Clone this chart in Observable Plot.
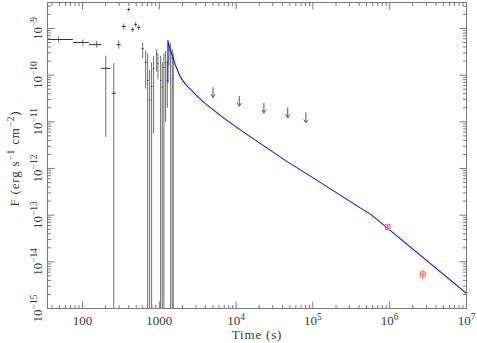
<!DOCTYPE html>
<html><head><meta charset="utf-8">
<script src="https://cdn.jsdelivr.net/npm/d3@7"></script>
<script src="https://cdn.jsdelivr.net/npm/@observablehq/plot@0.6"></script>
<style>html,body{margin:0;padding:0;background:#fff}svg{display:block}</style>
</head><body><div id="chart"></div>
<script>
// ---- Black crosses (early light curve) ----
const crossTime   = [49,101,153,201,255,296,344,399,450,492,538,607,664,705,748,794,843,922,960,1040,1094,1148,1208,1270,1334,1403,1475,1520];
const crossTimeLo = [35.5,75,121,173,240,278,323,383,432,472,516,589,645,690,733,779,826,903,945,1020,1075,1128,1188,1250,1312,1380,1450,1495];
const crossTimeHi = [75,121,178,233,271,315,366,416,469,512,561,626,684,720,763,810,860,941,975,1060,1113,1168,1228,1290,1356,1426,1500,1545];
const crossFlux   = [5.8e-10,5.0e-10,4.5e-10,1.4e-10,4.1e-11,4.5e-10,1.10e-9,2.55e-9,9.5e-10,1.22e-9,1.05e-9,3.7e-10,1.87e-10,7.7e-11,2.9e-11,5.7e-11,1.4e-10,2.9e-10,1.78e-10,7.7e-11,5.5e-11,1.46e-10,1.87e-10,7.7e-11,3.4e-10,3.1e-10,2.3e-10,8.5e-11];
const crossFluxLo = [5.0e-10,4.3e-10,3.9e-10,4.7e-12,1e-16,3.7e-10,9.5e-10,2.3e-9,8.4e-10,1.08e-9,9.3e-10,2.3e-10,5.2e-11,1e-16,1e-16,1e-16,5.6e-12,1.2e-10,8e-11,1e-16,1e-16,1e-16,9.8e-12,2.0e-11,1.6e-10,1e-16,1e-16,1e-16];
const crossFluxHi = [6.7e-10,5.8e-10,5.4e-10,2.6e-10,1.8e-10,5.5e-10,1.27e-9,2.8e-9,1.07e-9,1.37e-9,1.18e-9,5.0e-10,3.4e-10,2.9e-10,1.3e-10,1.9e-10,2.6e-10,3.6e-10,2.9e-10,2.6e-10,1.9e-10,2.9e-10,3.3e-10,2.0e-10,5.0e-10,4.8e-10,3.6e-10,2.9e-10];

// ---- Upper limits (down arrows) ----
const limitTime = [5000,11000,23000,47000,81000];
const limitFlux = [5.4e-11,3.5e-11,2.5e-11,2.0e-11,1.55e-11];

// ---- Model curve (blue) ----
const modelTime = [1293,1293,1333,1475,1628,1891,2196,2707,3439,4240,7261,13210,43650,124400,588800,1e7];
const modelFlux = [7.08e-11,5.54e-10,4.33e-10,2.64e-10,1.61e-10,8.93e-11,6.33e-11,4.48e-11,3.02e-11,2.25e-11,1.13e-11,5.65e-12,1.49e-12,5.04e-13,9.9e-14,2.11e-15];

// ---- Late red points ----
const redTime   = [9.4e5,2.7e6];
const redTimeLo = [8.8e5,2.55e6];
const redTimeHi = [1.0e6,2.85e6];
const redFlux   = [5.6e-14,5.4e-15];
const redFluxLo = [5.0e-14,4.2e-15];
const redFluxHi = [6.3e-14,6.8e-15];

// ---- Axes ----
const xTickValues = [100,1000,1e4,1e5,1e6,1e7];
const xTickLabels = ["100","1000","10^4","10^5","10^6","10^7"];
const yTickValues = [1e-15,1e-14,1e-13,1e-12,1e-11,1e-10,1e-9];
const yTickLabels = ["10^-15","10^-14","10^-13","10^-12","10^-11","10^-10","10^-9"];
const xTitle = "Time (s)";
const yTitle = "F (erg s^-1 cm^-2)";

const cross = crossTime.map((t,i)=>({t, tlo:crossTimeLo[i], thi:crossTimeHi[i], f:crossFlux[i], flo:crossFluxLo[i], fhi:crossFluxHi[i]}));
const limits = limitTime.map((t,i)=>({t, f:limitFlux[i]}));
const model = modelTime.map((t,i)=>({t, f:modelFlux[i]}));
const red = redTime.map((t,i)=>({t, tlo:redTimeLo[i], thi:redTimeHi[i], f:redFlux[i], flo:redFluxLo[i], fhi:redFluxHi[i]}));

const W = 477, H = 343, mL = 47, mR = 11, mT = 2, mB = 35;
const xDomain = [35, 1e7], yDomain = [1e-15, 3.6e-9];
const axisCol = "#7a7a7a", textCol = "#3a3a3a", FS = 13;
function minorTicks(lo, hi) {
  const out = [];
  for (let e = Math.floor(Math.log10(lo)); e <= Math.ceil(Math.log10(hi)); e++)
    for (let m = 2; m <= 9; m++) { const v = m * Math.pow(10, e); if (v > lo && v < hi) out.push(v); }
  return out;
}
const xMinor = minorTicks(...xDomain), yMinor = minorTicks(...yDomain);

// tick lengths (pixels) converted into log-scale factors from the frame edges
const fw = W - mL - mR, fh = H - mT - mB;
const xStep = px => Math.pow(xDomain[1] / xDomain[0], px / fw);
const yStep = px => Math.pow(yDomain[1] / yDomain[0], px / fh);
const xTicks = (vals, px) => [
  Plot.link(vals, {x1:d=>d, x2:d=>d, y1:yDomain[0], y2:yDomain[0]*yStep(px), stroke:axisCol}),
  Plot.link(vals, {x1:d=>d, x2:d=>d, y1:yDomain[1], y2:yDomain[1]/yStep(px), stroke:axisCol})
];
const yTicks = (vals, px) => [
  Plot.link(vals, {y1:d=>d, y2:d=>d, x1:xDomain[0], x2:xDomain[0]*xStep(px), stroke:axisCol}),
  Plot.link(vals, {y1:d=>d, y2:d=>d, x1:xDomain[1], x2:xDomain[1]/xStep(px), stroke:axisCol})
];

const svg = Plot.plot({
  width: W, height: H,
  marginLeft: mL, marginRight: mR, marginTop: mT, marginBottom: mB,
  x: {type: "log", domain: xDomain, axis: null},
  y: {type: "log", domain: yDomain, axis: null},
  style: {fontFamily: "Liberation Serif", fontSize: FS + "px", background: "#fff", color: textCol},
  marks: [
    Plot.link(cross, {x1:"t", x2:"t", y1:"flo", y2:"fhi", stroke:"#6e6e6e", strokeWidth:1, clip:true}),
    Plot.link(cross, {x1:"tlo", x2:"thi", y1:"f", y2:"f", stroke:"#333", strokeWidth:1, clip:true}),
    Plot.line(model, {x:"t", y:"f", stroke:"#1414ff", strokeWidth:1.1, clip:true}),
    Plot.arrow(limits, {x1:"t", y1:"f", x2:"t", y2:d=>d.f*0.62, stroke:"#555", strokeWidth:1, headLength:5, headAngle:70}),
    Plot.link(red, {x1:"t", x2:"t", y1:"flo", y2:"fhi", stroke:"#ff6a6a"}),
    Plot.link(red, {x1:"tlo", x2:"thi", y1:"f", y2:"f", stroke:"#ff6a6a"}),
    Plot.dot(red, {x:"t", y:"f", symbol:"square", r:2.8, stroke:"#ff6a6a", fill:"none", strokeWidth:1}),
    Plot.frame({stroke: axisCol}),
    ...xTicks(xTickValues, 7), ...xTicks(xMinor, 3.5),
    ...yTicks(yTickValues, 7), ...yTicks(yMinor, 3.5),
    Plot.text(xTickValues, {x:d=>d, text:(d,i)=>xTickLabels[i], frameAnchor:"bottom", lineAnchor:"top", dy:7.5, fill:textCol, fontSize:FS}),
    Plot.text(yTickValues, {y:d=>d, text:(d,i)=>yTickLabels[i], frameAnchor:"left", rotate:-90, textAnchor:"middle", lineAnchor:"bottom", dx:-6, fill:textCol, fontSize:FS}),
    Plot.text([xTitle], {text:d=>d, frameAnchor:"bottom", lineAnchor:"bottom", dy:30, fill:textCol, fontSize:FS}),
    Plot.text([yTitle], {text:d=>d, frameAnchor:"left", rotate:-90, textAnchor:"middle", lineAnchor:"bottom", dx:-29, dy:3, fill:textCol, fontSize:FS})
  ]
});

// Turn "a^b" into real superscript tspans; widen title spacing
svg.querySelectorAll("text").forEach(t => {
  const s = t.textContent;
  if (s === xTitle || s === yTitle) t.setAttribute("letter-spacing", "0.8");
  if (!s.includes("^")) return;
  const parts = s.split(/\^([-−]?\d+)/);
  t.textContent = "";
  let raised = false;
  parts.forEach((p, i) => {
    if (p === "") return;
    const ts = document.createElementNS("http://www.w3.org/2000/svg", "tspan");
    if (i % 2 === 1) {
      ts.setAttribute("dy", "-5");
      ts.setAttribute("font-size", "9.5");
      ts.textContent = p.replace("-", "\u2212");
      raised = true;
    } else {
      if (raised) { ts.setAttribute("dy", "5"); raised = false; }
      ts.textContent = p;
    }
    t.appendChild(ts);
  });
});
document.getElementById("chart").appendChild(svg);
</script>
</body></html>
